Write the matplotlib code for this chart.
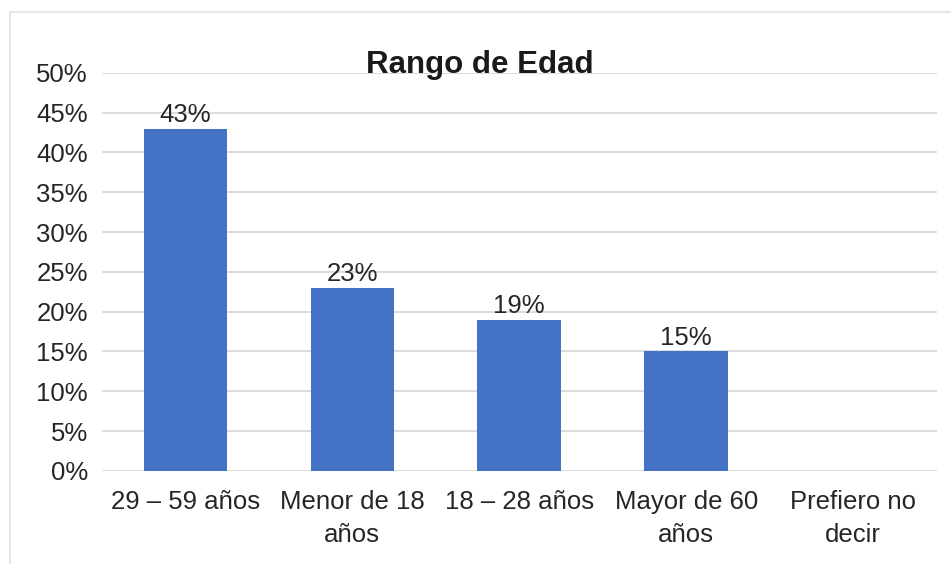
import matplotlib
matplotlib.use("Agg")
from matplotlib import pyplot as plt
from matplotlib.patches import Rectangle

# categories and share of respondents (%)
categorias = ["29 – 59 años", "Menor de 18\naños", "18 – 28 años", "Mayor de 60\naños", "Prefiero no\ndecir"]
valores = [43, 23, 19, 15, 0]
etiquetas = ["43%", "23%", "19%", "15%", ""]
yticks = [0, 5, 10, 15, 20, 25, 30, 35, 40, 45, 50]

plt.rcParams['font.family'] = ['Liberation Sans', 'DejaVu Sans']

fig = plt.figure(figsize=(9.51, 5.64), dpi=100)
ax = fig.add_axes([0.107, 0.165, 0.878, 0.706])

# light frame around the chart
fig.patches.append(Rectangle((10 / 951, -0.01), 1.0, 1.01 - 12 / 564, transform=fig.transFigure,
                             fill=False, edgecolor="#e6e6e6", linewidth=1.5))

x = range(len(categorias))
bars = ax.bar(x, valores, width=0.5, color="#4472C4", zorder=3)
for b, lab in zip(bars, etiquetas):
    ax.text(b.get_x() + b.get_width() / 2, b.get_height() + 0.2, lab,
            ha="center", va="bottom", fontsize=18.5, color="#262626", zorder=4)

ax.set_xlim(-0.5, 4.5)
ax.set_ylim(0, 50)
ax.set_yticks(yticks)
ax.set_yticklabels([f"{v}%" for v in yticks])
ax.set_xticks(list(x))
ax.set_xticklabels(categorias, linespacing=1.45)
ax.tick_params(axis="both", length=0, labelsize=18.5, labelcolor="#262626")
ax.tick_params(axis="y", pad=10)
ax.tick_params(axis="x", pad=14)

ax.grid(axis="y", color="#d9d9d9", linewidth=1.3, zorder=0)
for s in ax.spines.values():
    s.set_visible(False)

fig.text(0.505, 0.885, "Rango de Edad", ha="center", va="center",
         fontsize=22.5, fontweight="bold", color="#1a1a1a")

fig.savefig("out.png", dpi=100)
